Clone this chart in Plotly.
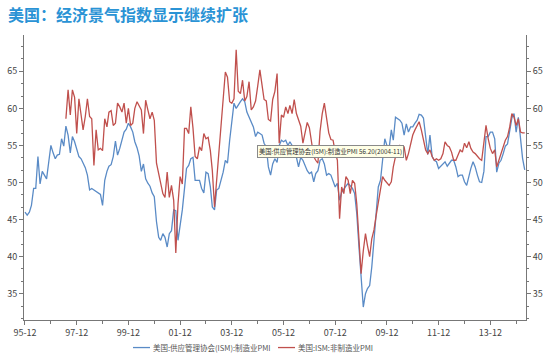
import pandas as pd
import plotly.graph_objects as go

# ISM manufacturing PMI, monthly from 1995-12
mfg_pmi = [
    46.0, 45.6, 46.0, 46.9, 49.2, 49.2, 53.5, 49.8, 51.5, 51.0, 50.5, 52.8,
    55.0, 54.0, 53.2, 53.7, 53.8, 55.9, 54.9, 57.6, 56.4, 54.0, 56.2, 55.5,
    54.6, 53.5, 53.2, 52.6, 52.0, 51.0, 49.0, 49.2, 49.0, 48.8, 48.6, 48.4,
    46.9, 50.3, 51.5, 52.2, 52.4, 53.5, 55.6, 53.7, 54.6, 55.8, 56.8, 57.2,
    58.0, 57.5, 56.8, 55.5, 54.7, 53.6, 51.5, 52.5, 50.5, 49.9, 49.5, 48.6,
    48.1, 44.7, 42.6, 42.2, 43.1, 42.6, 41.3, 43.1, 43.5, 46.3, 46.2, 42.2,
    44.2, 46.3, 49.2, 51.9, 52.3, 53.2, 53.4, 50.3, 50.3, 50.3, 49.2, 48.6,
    51.4, 51.2, 49.4, 46.7, 46.3, 49.0, 49.2, 50.3, 51.4, 53.0, 52.6, 55.7,
    58.4, 60.7, 60.0, 60.5, 60.9, 61.3, 60.9, 59.5, 58.9, 58.2, 57.5, 56.2,
    56.8, 56.6, 56.4, 55.3, 54.8, 52.1, 51.0, 52.5, 53.2, 52.7, 55.0, 55.7,
    55.5, 55.7, 55.0, 55.5, 55.0, 54.1, 53.4, 52.1, 53.4, 53.0, 52.3, 51.6,
    51.2, 51.4, 50.1, 51.2, 51.6, 53.0, 53.2, 52.5, 51.0, 51.2, 51.0, 50.3,
    49.4, 49.9, 47.6, 48.7, 49.2, 49.5, 49.9, 49.6, 49.2, 48.5, 45.8, 41.3,
    37.7, 33.2, 35.0, 35.7, 36.1, 38.6, 42.2, 45.8, 49.4, 50.3, 53.5, 55.9,
    55.0, 54.6, 57.1, 55.7, 58.8, 58.6, 58.4, 58.0, 56.4, 57.9, 56.8, 57.5,
    57.5, 58.0, 58.4, 59.2, 59.1, 58.7, 55.7, 53.8, 56.4, 53.5, 53.0, 52.8,
    51.9, 52.2, 52.6, 52.8, 52.2, 52.6, 53.0, 53.0, 52.1, 50.8, 51.0, 51.0,
    50.1, 49.6, 51.0, 51.9, 52.8, 52.1, 51.0, 50.1, 50.0, 51.5, 56.2, 56.2,
    56.8, 56.8, 55.9, 51.4, 52.6, 53.0, 53.9, 54.9, 55.2, 57.1, 58.7, 59.3,
    56.8, 58.8, 55.5, 53.3, 51.7,
]

# ISM non-manufacturing PMI, monthly from 1997-07
nonmfg_pmi = [
    58.6, 62.5, 59.1, 62.5, 61.5, 56.6, 61.3, 59.1, 57.1, 58.9, 61.3, 58.9,
    58.6, 52.3, 57.1, 54.4, 54.6, 54.3, 58.6, 57.5, 59.5, 59.7, 57.7, 58.0,
    60.7, 60.2, 59.5, 60.7, 58.0, 60.0, 57.7, 58.0, 60.0, 60.9, 60.4, 59.8,
    56.6, 61.1, 59.8, 58.6, 59.5, 58.4, 52.6, 51.2, 49.8, 48.5, 48.0, 51.4,
    48.0, 49.6, 47.6, 40.5, 47.1, 50.8, 49.8, 57.3, 57.3, 56.6, 60.2, 57.3,
    53.5, 53.2, 54.8, 54.3, 56.6, 55.9, 56.1, 54.3, 51.6, 46.7, 50.3, 53.9,
    57.5, 61.6, 64.9, 64.2, 60.9, 60.7, 61.3, 67.9, 62.3, 62.0, 63.8, 61.0,
    61.6, 63.6, 59.8, 60.2, 61.0, 63.0, 65.2, 63.1, 61.2, 61.0, 58.5, 58.3,
    61.2, 62.3, 64.7, 55.3, 59.1, 58.8, 60.2, 59.3, 60.4, 59.3, 61.2, 59.3,
    58.3, 57.6, 55.3, 56.5, 58.1, 57.4, 55.7, 53.5, 53.0, 52.6, 56.9, 59.3,
    60.7, 58.8, 56.7, 55.8, 55.7, 54.1, 53.0, 45.1, 49.4, 48.5, 50.8, 50.3,
    48.5, 50.3, 49.9, 47.1, 42.2, 37.7, 40.8, 43.1, 41.5, 40.0, 42.4, 43.6,
    45.5, 47.1, 49.0, 50.8, 50.3, 50.0, 49.6, 50.1, 52.1, 53.5, 54.6, 55.0,
    54.8, 54.8, 53.0, 53.9, 55.3, 56.4, 57.1, 57.7, 58.2, 57.1, 55.7, 54.4,
    53.9, 54.4, 53.5, 53.0, 53.2, 53.0, 53.2, 53.9, 55.5, 55.0, 54.8, 54.1,
    53.0, 53.0, 53.7, 54.4, 54.1, 55.3, 54.7, 55.5, 54.6, 54.1, 53.9, 53.5,
    53.2, 53.0, 55.5, 57.7, 55.9, 54.6, 53.9, 54.4, 52.1, 53.0, 54.1, 55.0,
    55.7, 56.2, 57.5, 59.3, 58.8, 57.7, 58.6, 56.8, 56.7, 56.7,
]

mfg_dates = pd.date_range("1995-12-01", periods=len(mfg_pmi), freq="MS")
nonmfg_dates = pd.date_range("1997-07-01", periods=len(nonmfg_pmi), freq="MS")

tick_dates = pd.date_range("1995-12-01", "2013-12-01", freq="24MS")
tick_labels = [d.strftime("%y-%m") for d in tick_dates]

y_ticks = [35, 40, 45, 50, 55, 60, 65]
y_range = [31.45, 69.9]

title_text = "美国：经济景气指数显示继续扩张"
name_mfg = "美国:供应管理协会(ISM):制造业PMI"
name_nonmfg = "美国:ISM:非制造业PMI"
tooltip_text = "美国:供应管理协会(ISM):制造业PMI 56.20(2004-11)"

BLUE = "#5a8bc6"
RED = "#c0504d"
AX = "#777777"
FONT = "Noto Sans CJK SC"

fig = go.Figure()
fig.add_trace(go.Scatter(x=mfg_dates, y=mfg_pmi, mode="lines", name=name_mfg,
                         line=dict(color=BLUE, width=1.3), showlegend=False))
fig.add_trace(go.Scatter(x=nonmfg_dates, y=nonmfg_pmi, mode="lines", name=name_nonmfg,
                         line=dict(color=RED, width=1.3), showlegend=False))
# invisible trace to carry the right-hand axis
fig.add_trace(go.Scatter(x=[mfg_dates[0]], y=[mfg_pmi[0]], yaxis="y2", mode="lines",
                         showlegend=False, hoverinfo="skip", line=dict(width=0)))

x_start = pd.Timestamp("1995-11-17")
x_end = pd.Timestamp("2015-04-19")

# legend drawn as line samples + labels below the plot (paper coordinates)
PL, PW, PB, PH = 24, 502, 319.5, 284.5
def px(xp):
    return (xp - PL) / PW
def py(yp):
    return (PB - yp) / PH

LEG_Y = 347
legend_items = [(name_mfg, BLUE, 133, 150), (name_nonmfg, RED, 278, 295)]

shapes = []
annotations = [
    dict(text="<b>" + title_text + "</b>", xref="paper", yref="paper",
         x=-0.036, y=1.072, xanchor="left", yanchor="middle", showarrow=False,
         font=dict(family=FONT, size=16, color="#2a93d5")),
    dict(text=tooltip_text, xref="paper", yref="paper", x=0.6096, y=0.5905,
         xanchor="center", yanchor="middle", showarrow=False,
         font=dict(family=FONT, size=6.3, color="#333333"),
         bgcolor="#ffffe6", bordercolor="#8a8a8a", borderwidth=1, borderpad=1),
]
for name, color, x0, x1 in legend_items:
    shapes.append(dict(type="line", xref="paper", yref="paper",
                       x0=px(x0), x1=px(x1), y0=py(LEG_Y), y1=py(LEG_Y),
                       line=dict(color=color, width=1.3)))
    annotations.append(dict(text=name, xref="paper", yref="paper",
                            x=px(x1 + 1), y=py(LEG_Y), xanchor="left", yanchor="middle",
                            showarrow=False,
                            font=dict(family=FONT, size=7.5, color="#555555")))

fig.update_layout(
    width=550, height=355,
    margin=dict(l=24, r=24, t=35, b=35, autoexpand=False),
    paper_bgcolor="white", plot_bgcolor="white",
    font=dict(family=FONT, color="#444444", size=9),
    showlegend=False,
    xaxis=dict(type="date", range=[x_start, x_end], showgrid=False, zeroline=False,
               showline=True, linecolor=AX, linewidth=1,
               tickmode="array", tickvals=tick_dates, ticktext=tick_labels,
               ticks="outside", ticklen=4, tickcolor=AX,
               tickfont=dict(family=FONT, size=9, color="#444444"),
               minor=dict(tickmode="array",
                          tickvals=pd.date_range("1996-12-01", "2014-12-01", freq="24MS"),
                          ticks="outside", ticklen=3, tickcolor=AX)),
    yaxis=dict(range=y_range, showgrid=False, zeroline=False, showline=True,
               linecolor=AX, linewidth=1, tickmode="array", tickvals=y_ticks,
               ticks="outside", ticklen=4, tickcolor=AX,
               tickfont=dict(family=FONT, size=9, color="#444444"),
               minor=dict(dtick=5/3, tick0=0, ticks="outside", ticklen=2, tickcolor=AX)),
    yaxis2=dict(range=y_range, overlaying="y", side="right", showgrid=False, zeroline=False,
                showline=True, linecolor=AX, linewidth=1, tickmode="array", tickvals=y_ticks,
                ticks="outside", ticklen=4, tickcolor=AX,
                tickfont=dict(family=FONT, size=9, color="#444444"),
                minor=dict(dtick=5/3, tick0=0, ticks="outside", ticklen=2, tickcolor=AX)),
    shapes=shapes,
    annotations=annotations,
)

fig.write_html("out.html", config={"displayModeBar": False},
               post_script="document.body.style.margin='0';document.body.style.overflow='hidden';")
